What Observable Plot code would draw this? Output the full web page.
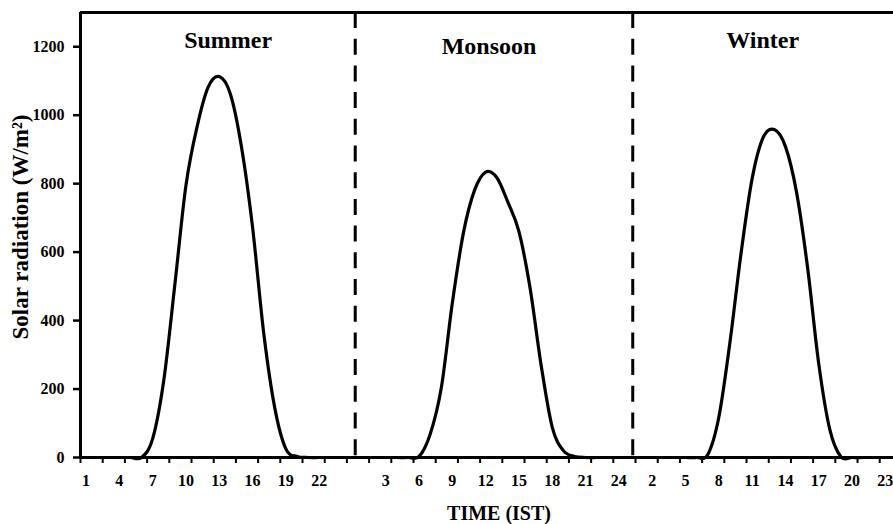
<!DOCTYPE html>
<html>
<head>
<meta charset="utf-8">
<script src="https://cdn.jsdelivr.net/npm/d3@7"></script>
<script src="https://cdn.jsdelivr.net/npm/@observablehq/plot@0.6"></script>
<style>
  html, body { margin: 0; padding: 0; background: #fff; overflow: hidden; }
</style>
</head>
<body>
<div id="chart"></div>
<script>
// Hourly solar radiation (W/m²) for the three seasons, hours 1–24 IST
const seasons = ["Summer", "Monsoon", "Winter"];
const hourLabels = ["1","2","3","4","5","6","7","8","9","10","11","12",
                    "13","14","15","16","17","18","19","20","21","22","23","24"];
const summer  = [0,0,0,0,0,0,55,225,505,795,966,1082,1113,1062,908,673,365,145,25,3,0,0,0,0];
const monsoon = [0,0,0,0,0,3,68,203,452,657,781,834,818,746,660,495,269,88,20,3,0,0,0,0];
const winter  = [0,0,0,0,0,0,8,117,335,595,814,935,958,909,776,555,275,82,2,0,0,0,0,0];
const yTicks = [0, 200, 400, 600, 800, 1000, 1200];

// One category axis: the seasons follow each other, separated by an empty slot
const categories = [...hourLabels, "", ...hourLabels, "", ...hourLabels];
const values = [...summer, null, ...monsoon, null, ...winter];
const rows = categories.map((label, i) => ({i, label, v: values[i]}));

// Empty separator slots get the dashed season boundaries
const seasonBreaks = categories.map((c, i) => (c === "" ? i + 0.25 : null)).filter(d => d !== null);

// Season headings: category position and height in chart units
const headingX = [12.8, 36.3, 60.95];
const headingY = [1218, 1202, 1218];

const labelIdx = d3.range(0, categories.length, 3);       // every third category is labelled
const tickIdx = d3.range(-0.5, categories.length, 2);      // tick marks every two categories

const serif = "'Liberation Serif', 'Times New Roman', Times, serif";

const chart = Plot.plot({
  width: 893,
  height: 524,
  marginLeft: 80,
  marginRight: 0,
  marginTop: 12,
  marginBottom: 67,
  style: {fontFamily: serif, fontWeight: "bold", fontSize: "16px", color: "#000", background: "#fff"},
  x: {type: "linear", domain: [-0.5, 72.74], axis: null},
  y: {domain: [0, 1300], axis: null},
  marks: [
    Plot.axisY({ticks: yTicks, tickSize: 7, tickPadding: 9, tickFormat: d3.format("d"),
                strokeWidth: 2.5, label: null}),
    Plot.axisX({ticks: tickIdx, tickSize: 6, tickFormat: () => "", strokeWidth: 2, label: null}),
    Plot.axisX({ticks: labelIdx, tickSize: 0, tickPadding: 17,
                tickFormat: i => categories[i], label: null}),
    Plot.ruleX([-0.5], {strokeWidth: 3}),
    Plot.ruleY([0], {strokeWidth: 3}),
    Plot.ruleY([1300], {strokeWidth: 3}),
    Plot.ruleX(seasonBreaks, {y1: 1300, y2: 0, strokeWidth: 3, strokeDasharray: "16,10.7"}),
    // Smoothed line through the hourly readings (uniform Catmull–Rom)
    Plot.line(rows, {x: "i", y: "v", curve: "cardinal", tension: 0, strokeWidth: 3.2, stroke: "#000"}),
    Plot.text(seasons, {x: (d, i) => headingX[i], y: (d, i) => headingY[i], text: d => d,
                        fontSize: 24, fontFamily: serif, fontWeight: "bold"}),
    Plot.text(["TIME (IST)"], {frameAnchor: "bottom", lineAnchor: "middle", dx: 12, dy: 56,
                               text: d => d, fontSize: 20, fontFamily: serif, fontWeight: "bold"}),
    Plot.text(["Solar radiation (W/m²)"], {frameAnchor: "left", textAnchor: "middle", lineAnchor: "middle",
                                          rotate: -90, dx: -60, dy: -8, text: d => d, fontSize: 23,
                                          fontFamily: serif, fontWeight: "bold"})
  ]
});

document.getElementById("chart").append(chart);
</script>
</body>
</html>
